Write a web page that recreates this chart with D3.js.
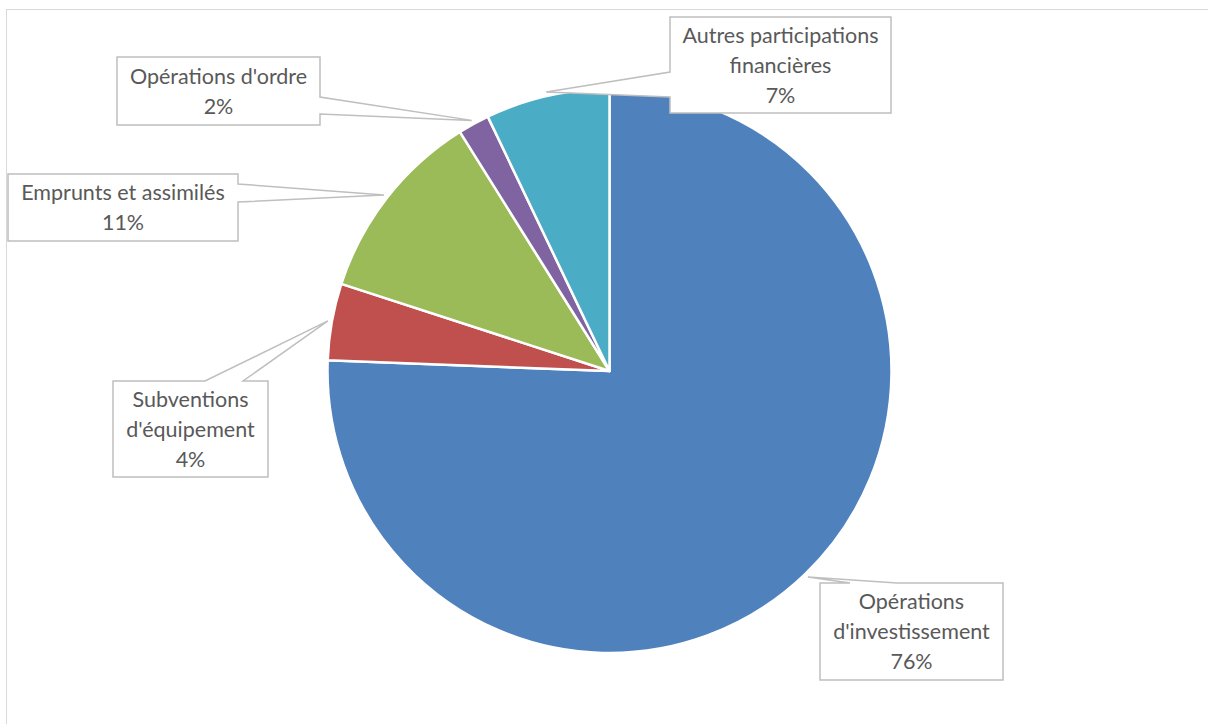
<!DOCTYPE html>
<html>
<head>
<meta charset="utf-8">
<script src="https://cdn.jsdelivr.net/npm/d3@7"></script>
<style>
  body { margin: 0; background: #fff; }
  text { font-family: Lato, "Open Sans", sans-serif; fill: #595959; }
</style>
</head>
<body>
<div id="chart"></div>
<script>
// slices, clockwise from 12 o'clock
var categories = ["Opérations d'investissement", "Subventions d'équipement", "Emprunts et assimilés", "Opérations d'ordre", "Autres participations financières"];
var shares = [75.6, 4.4, 11.1, 1.8, 7.1];
var labelLines = [
    ["Opérations", "d'investissement"],
    ["Subventions", "d'équipement"],
    ["Emprunts et assimilés"],
    ["Opérations d'ordre"],
    ["Autres participations", "financières"]
];
var colors = ["#4F81BD", "#C0504D", "#9BBB59", "#8064A2", "#4BACC6"];

// callout boxes (layout only)
var boxes = [
    { x0: 820, y0: 583, x1: 1003, y1: 680, side: "top", w: [850, 897] },
    { x0: 113, y0: 381, x1: 268, y1: 477, side: "top", w: [205, 243] },
    { x0: 8, y0: 174, x1: 238, y1: 241, side: "right", w: [184, 202] },
    { x0: 117, y0: 57, x1: 320, y1: 125, side: "right", w: [97, 114] },
    { x0: 670, y0: 17, x1: 891, y1: 113, side: "left", w: [72, 97] }
];

var width = 1208, height = 724;
var cx = 609.5, cy = 371, r = 282;

var svg = d3.select("#chart").append("svg")
    .attr("width", width)
    .attr("height", height);

// chart area border
svg.append("rect")
    .attr("x", 6.5).attr("y", 9.5)
    .attr("width", 1220).attr("height", 740)
    .attr("fill", "none")
    .attr("stroke", "#D9D9D9")
    .attr("stroke-width", 1);

var data = categories.map(function (c, i) {
    return { name: c, value: shares[i], lines: labelLines[i], color: colors[i], box: boxes[i] };
});
var total = d3.sum(shares);
var pct = d3.format(".0%");

var pie = d3.pie().sort(null).value(function (d) { return d.value; });
var arcs = pie(data);
var arc = d3.arc().innerRadius(0).outerRadius(r);

var g = svg.append("g").attr("transform", "translate(" + cx + "," + cy + ")");

g.selectAll("path.slice")
    .data(arcs)
    .enter().append("path")
    .attr("class", "slice")
    .attr("d", arc)
    .attr("fill", function (d) { return d.data.color; })
    .attr("stroke", "#fff")
    .attr("stroke-width", 2.5)
    .attr("stroke-linejoin", "round");

// callout shape: rectangle with a wedge pointing to the slice
function callout(b, tip) {
    var tx = tip[0], ty = tip[1];
    if (b.side == "right") {
        return "M" + b.x0 + "," + b.y0 + "H" + b.x1 + "V" + b.w[0] + "L" + tx + "," + ty +
            "L" + b.x1 + "," + b.w[1] + "V" + b.y1 + "H" + b.x0 + "Z";
    } else if (b.side == "left") {
        return "M" + b.x0 + "," + b.y0 + "H" + b.x1 + "V" + b.y1 + "H" + b.x0 + "V" + b.w[1] +
            "L" + tx + "," + ty + "L" + b.x0 + "," + b.w[0] + "Z";
    }
    return "M" + b.x0 + "," + b.y0 + "H" + b.w[0] + "L" + tx + "," + ty + "L" + b.w[1] + "," + b.y0 +
        "H" + b.x1 + "V" + b.y1 + "H" + b.x0 + "Z";
}

var labels = svg.selectAll("g.label")
    .data(arcs)
    .enter().append("g")
    .attr("class", "label");

labels.append("path")
    .attr("d", function (d) {
        var a = (d.startAngle + d.endAngle) / 2;
        var tr = r + 4;
        var tip = [cx + tr * Math.sin(a), cy - tr * Math.cos(a)];
        return callout(d.data.box, tip);
    })
    .attr("fill", "#fff")
    .attr("stroke", "#BFBFBF")
    .attr("stroke-width", 1.5)
    .attr("stroke-linejoin", "miter");

labels.each(function (d) {
    var b = d.data.box;
    var lines = d.data.lines.concat([pct(d.data.value / total)]);
    var lh = 30;
    var mid = (b.y0 + b.y1) / 2;
    var t = d3.select(this).append("text")
        .attr("text-anchor", "middle")
        .attr("font-size", 21.5);
    lines.forEach(function (s, i) {
        t.append("tspan")
            .attr("x", (b.x0 + b.x1) / 2)
            .attr("y", mid + (i - (lines.length - 1) / 2) * lh)
            .attr("dy", "0.35em")
            .text(s);
    });
});
</script>
</body>
</html>
